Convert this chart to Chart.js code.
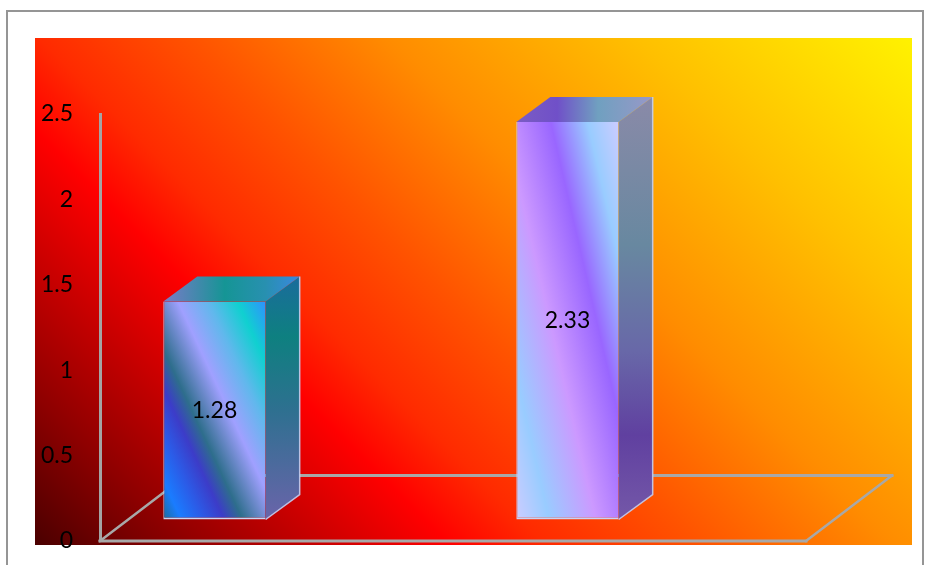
<!DOCTYPE html>
<html>
<head>
<meta charset="utf-8">
<script src="https://cdn.jsdelivr.net/npm/chart.js@4.4.1/dist/chart.umd.min.js"></script>
<style>
  html, body { margin: 0; padding: 0; background: #fff; }
  #wrap { width: 930px; height: 565px; }
</style>
</head>
<body>
<div id="wrap"><canvas id="chart" width="930" height="565"></canvas></div>
<script>
// ---- data ----
const categories = ['Category 1', 'Category 2'];
const values = [1.28, 2.33];
const yTicks = [0, 0.5, 1, 1.5, 2, 2.5];

// ---- styling ----
const FONT = 'Lato';
const BAR_PCT = 0.29;
const SHIFT = { x: -62, y: -21 };     // where the columns stand on the floor
const DEPTH = { x: 34, y: -25 };      // column depth (side and top faces)
const FLOOR = { x: 86, y: -65.5 };    // floor depth
const PLOT_BG = { left: 35, top: 38, right: 912, bottom: 545 };

const bandAngles = [25, 13];
const frontStops = [
  [[0, '#1c6c98'], [0.09, '#1a7cff'], [0.2, '#2c5ae6'], [0.3, '#3c3cc8'], [0.39, '#2e6e8c'],
   [0.57, '#a0a0ff'], [0.72, '#60b8ec'], [0.86, '#10d0d0'], [1, '#3090ff']],
  [[0, '#ccccff'], [0.17, '#99ccff'], [0.41, '#cc99ff'], [0.65, '#9966ff'], [0.84, '#99ccff'], [1, '#ccccff']]
];
const sideStops = [
  [[0, '#1a6c9c'], [0.25, '#0e8080'], [0.55, '#2e7090'], [1, '#6a64aa']],
  [[0, '#8a8aa8'], [0.35, '#6888a0'], [0.6, '#6868a8'], [0.8, '#6040a0'], [1, '#7458a8']]
];
const topStops = [
  [[0, '#7a7ac8'], [0.45, '#159595'], [0.75, '#2890b0'], [1, '#3a88e0']],
  [[0, '#7a5cc4'], [0.3, '#7050c8'], [0.6, '#70a0c0'], [1, '#9898c8']]
];
const bgStops = [
  [0, '#4a0000'], [0.105, '#8c0000'], [0.3, '#ff0000'], [0.368, '#ff2a00'],
  [0.477, '#ff5200'], [0.621, '#ff8c00'], [0.802, '#ffc000'], [1, '#fff200']
];

function addStops(g, stops) { stops.forEach(([o, c]) => g.addColorStop(o, c)); return g; }

// diagonal banding across a rectangle, starting at its bottom-left corner
function bandGradient(ctx, l, t, r, b, angleDeg, stops) {
  const a = angleDeg * Math.PI / 180;
  const ux = Math.cos(a), uy = -Math.sin(a);
  const len = (r - l) * ux + (t - b) * uy;
  return addStops(ctx.createLinearGradient(l, b, l + ux * len, b + uy * len), stops);
}

function frontFill(c) {
  const i = c.dataIndex;
  const solid = frontStops[i % 2][4][1];
  const chart = c.chart, xs = chart.scales.x, ys = chart.scales.y;
  if (c.type !== 'data' || !xs || !ys) return solid;
  const half = xs.width / categories.length * BAR_PCT / 2;
  const cx = xs.getPixelForValue(i);
  const top = ys.getPixelForValue(values[i]);
  const bottom = ys.getPixelForValue(0);
  if (![half, cx, top, bottom].every(Number.isFinite) || half <= 0 || bottom - top <= 0) return solid;
  return bandGradient(chart.ctx, cx - half, top, cx + half, bottom, bandAngles[i], frontStops[i]);
}

function poly(ctx, pts, fill) {
  ctx.beginPath();
  ctx.moveTo(pts[0][0], pts[0][1]);
  for (let k = 1; k < pts.length; k++) ctx.lineTo(pts[k][0], pts[k][1]);
  ctx.closePath();
  ctx.fillStyle = fill;
  ctx.fill();
}

const scenePlugin = {
  id: 'scene',
  beforeDraw(chart) {
    const ctx = chart.ctx;
    ctx.save();
    ctx.fillStyle = '#ffffff';
    ctx.fillRect(0, 0, chart.width, chart.height);
    // outer frame
    ctx.strokeStyle = '#959595';
    ctx.lineWidth = 2;
    ctx.strokeRect(7, 11, 916, 570);
    // plot background
    const p = PLOT_BG;
    const d = ((p.right - p.left) + (p.bottom - p.top)) / 2;
    const g = addStops(ctx.createLinearGradient(p.left, p.bottom, p.left + d, p.bottom - d), bgStops);
    ctx.fillStyle = g;
    ctx.fillRect(p.left, p.top, p.right - p.left, p.bottom - p.top);
    ctx.restore();
  },
  beforeDatasetsDraw(chart) {
    const ctx = chart.ctx, area = chart.chartArea;
    const y0 = chart.scales.y.getPixelForValue(0);
    // floor outline
    ctx.save();
    ctx.strokeStyle = '#a8a8a8';
    ctx.lineWidth = 3;
    ctx.lineCap = 'square';
    ctx.beginPath();
    ctx.moveTo(area.left, y0);
    ctx.lineTo(area.right, y0);
    ctx.moveTo(area.left + FLOOR.x, y0 + FLOOR.y);
    ctx.lineTo(area.right + FLOOR.x, y0 + FLOOR.y);
    ctx.stroke();
    ctx.lineWidth = 2.5;
    ctx.beginPath();
    ctx.moveTo(area.left, y0);
    ctx.lineTo(area.left + FLOOR.x, y0 + FLOOR.y);
    ctx.moveTo(area.right, y0);
    ctx.lineTo(area.right + FLOOR.x, y0 + FLOOR.y);
    ctx.stroke();
    ctx.restore();
    // columns are drawn standing inside the floor
    ctx.save();
    ctx.translate(SHIFT.x, SHIFT.y);
  },
  afterDatasetsDraw(chart) {
    const ctx = chart.ctx;
    ctx.restore();
    const meta = chart.getDatasetMeta(0);
    meta.data.forEach((el, i) => {
      const { x, y, base, width } = el.getProps(['x', 'y', 'base', 'width'], true);
      const l = x - width / 2 + SHIFT.x, r = x + width / 2 + SHIFT.x;
      const t = y + SHIFT.y, b = base + SHIFT.y;
      ctx.save();
      // side face
      const sg = addStops(ctx.createLinearGradient(0, t + DEPTH.y, 0, b), sideStops[i]);
      poly(ctx, [[r, t], [r + DEPTH.x, t + DEPTH.y], [r + DEPTH.x, b + DEPTH.y], [r, b]], sg);
      // top face
      const tg = addStops(ctx.createLinearGradient(l, 0, r + DEPTH.x, 0), topStops[i]);
      poly(ctx, [[l, t], [l + DEPTH.x, t + DEPTH.y], [r + DEPTH.x, t + DEPTH.y], [r, t]], tg);
      // light edges
      ctx.strokeStyle = 'rgba(196,206,240,0.9)';
      ctx.lineWidth = 1.5;
      ctx.beginPath();
      ctx.moveTo(r, b);
      ctx.lineTo(r + DEPTH.x, b + DEPTH.y);
      ctx.lineTo(r + DEPTH.x, t + DEPTH.y);
      ctx.stroke();
      // value label
      ctx.fillStyle = '#000000';
      ctx.font = '23px ' + FONT;
      ctx.textAlign = 'center';
      ctx.textBaseline = 'middle';
      ctx.fillText(String(values[i]), (l + r) / 2, (t + b) / 2);
      ctx.restore();
    });
  }
};

new Chart(document.getElementById('chart'), {
  type: 'bar',
  data: {
    labels: categories,
    datasets: [{
      data: values,
      backgroundColor: frontFill,
      borderColor: '#c8d4f4',
      borderWidth: { top: 0, right: 0, bottom: 2, left: 1 },
      borderSkipped: false,
      barPercentage: BAR_PCT,
      categoryPercentage: 1
    }]
  },
  options: {
    responsive: false,
    devicePixelRatio: 1,
    animation: false,
    layout: { padding: { top: 114, bottom: 24, left: 36, right: 124 } },
    plugins: { legend: { display: false }, tooltip: { enabled: false } },
    scales: {
      x: { display: false },
      y: {
        min: 0,
        max: 2.5,
        afterBuildTicks: s => { s.ticks = yTicks.map(v => ({ value: v })); },
        afterFit: s => { s.width = 64; },
        grid: { display: true, drawOnChartArea: false, drawTicks: true, tickLength: 24, tickColor: 'rgba(0,0,0,0)' },
        border: { display: true, color: '#a4a4a4', width: 3 },
        ticks: {
          color: '#000000',
          font: { family: FONT, size: 23 },
          padding: 3,
          callback: v => String(v)
        }
      }
    }
  },
  plugins: [scenePlugin]
});
</script>
</body>
</html>
